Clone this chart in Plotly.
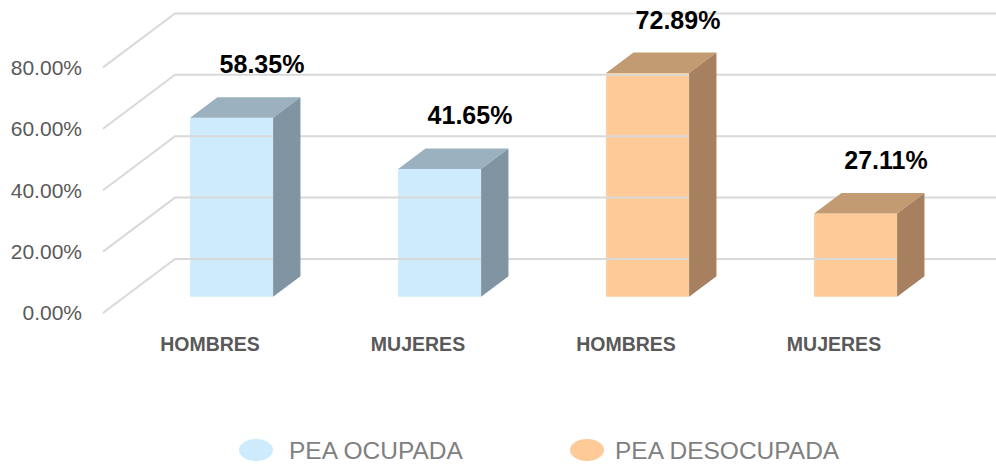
import plotly.graph_objects as go

# ---- data ----
categories = ["HOMBRES", "MUJERES", "HOMBRES", "MUJERES"]
series_names = ["PEA OCUPADA", "PEA DESOCUPADA"]
values = [58.35, 41.65, 72.89, 27.11]
series_of_bar = [0, 0, 1, 1]
y_ticks = [0, 20, 40, 60, 80]
y_tick_labels = ["0.00%", "20.00%", "40.00%", "60.00%", "80.00%"]

# ---- styling / projection ----
W, H = 996, 464
ML, MR, MT, MB = 100, 0, 0, 134
PX_PER_CAT = 208.0
PX_PER_PCT = 3.07
CAT0_PX = 210.0
ZERO_PY = 313.0
DEPTH_DX = 72.0 / PX_PER_CAT      # full depth offset in category units
DEPTH_DY = 54.0 / PX_PER_PCT      # full depth offset in percent units
D_FRONT, D_BACK = 0.30, 0.68
BAR_W = 83.0 / PX_PER_CAT
WALL_LEFT = (103.0 - CAT0_PX) / PX_PER_CAT
LABEL_DX = 52.0 / PX_PER_CAT
LABEL_DY = 21.8

front_cols = ["#CDEBFC", "#FECB98"]
top_cols = ["#9BB1BF", "#C39B73"]
side_cols = ["#8095A1", "#A6805F"]
grid_col = "#D9D9D9"


def px2x(px):
    return (px - CAT0_PX) / PX_PER_CAT


def py2y(py):
    return (ZERO_PY - py) / PX_PER_PCT


def px2paper(px):
    return (px - ML) / (W - ML - MR)


def py2paper(py):
    return (H - MB - py) / (H - MT - MB)


x_range = [px2x(ML), px2x(W - MR)]
y_range = [py2y(H - MB), py2y(MT)]

fig = go.Figure()

# gridlines (left wall diagonal + back wall horizontal)
for v in y_ticks:
    fig.add_trace(go.Scatter(
        x=[WALL_LEFT, WALL_LEFT + DEPTH_DX, x_range[1] + 1],
        y=[v, v + DEPTH_DY, v + DEPTH_DY],
        mode="lines", line=dict(color=grid_col, width=2),
        hoverinfo="skip", showlegend=False))

# bars
for i, (v, s) in enumerate(zip(values, series_of_bar)):
    xl, xr = i - BAR_W / 2, i + BAR_W / 2
    f0x, f0y = D_FRONT * DEPTH_DX, D_FRONT * DEPTH_DY
    b0x, b0y = D_BACK * DEPTH_DX, D_BACK * DEPTH_DY
    # front face
    fig.add_trace(go.Bar(
        x=[i + f0x], y=[v], base=[f0y], width=[BAR_W],
        marker=dict(color=front_cols[s], line=dict(width=0)),
        hoverinfo="skip", showlegend=False))
    # top face
    fig.add_trace(go.Scatter(
        x=[xl + f0x, xr + f0x, xr + b0x, xl + b0x, xl + f0x],
        y=[v + f0y, v + f0y, v + b0y, v + b0y, v + f0y],
        mode="lines", fill="toself", fillcolor=top_cols[s],
        line=dict(width=0, color=top_cols[s]),
        hoverinfo="skip", showlegend=False))
    # side face
    fig.add_trace(go.Scatter(
        x=[xr + f0x, xr + f0x, xr + b0x, xr + b0x, xr + f0x],
        y=[f0y, v + f0y, v + b0y, b0y, f0y],
        mode="lines", fill="toself", fillcolor=side_cols[s],
        line=dict(width=0, color=side_cols[s]),
        hoverinfo="skip", showlegend=False))

# value labels
fig.add_trace(go.Scatter(
    x=[i + LABEL_DX for i in range(len(values))],
    y=[v + LABEL_DY for v in values],
    mode="text", text=[f"<b>{v:.2f}%</b>" for v in values],
    textposition="middle center",
    textfont=dict(family="Liberation Sans", size=25, color="#000000"),
    hoverinfo="skip", showlegend=False, cliponaxis=False))

# legend (drawn manually)
legend_items = [(256.0, 287.0), (587.0, 613.0)]
for s, (cx, tx) in enumerate(legend_items):
    fig.add_shape(type="circle", xref="paper", yref="paper",
                  x0=px2paper(cx - 17), x1=px2paper(cx + 17),
                  y0=py2paper(461), y1=py2paper(439),
                  fillcolor=front_cols[s], line=dict(width=0))
    fig.add_annotation(x=px2paper(tx), y=py2paper(450), xref="paper", yref="paper",
                       text=series_names[s], showarrow=False,
                       xanchor="left", yanchor="middle",
                       font=dict(family="Liberation Sans", size=24.5, color="#7F7F7F"))

fig.update_layout(
    width=W, height=H,
    margin=dict(l=ML, r=MR, t=MT, b=MB, pad=0, autoexpand=False),
    paper_bgcolor="white", plot_bgcolor="white",
    barmode="overlay", showlegend=False,
    xaxis=dict(range=x_range, showgrid=False, zeroline=False, showline=False,
               automargin=False,
               tickmode="array", tickvals=list(range(len(categories))),
               ticktext=[f"<b>{c}</b>" for c in categories],
               tickfont=dict(family="Liberation Sans", size=19.5, color="#595959"),
               ticks="", fixedrange=True),
    yaxis=dict(range=y_range, showgrid=False, zeroline=False, showline=False,
               automargin=False,
               tickmode="array", tickvals=y_ticks, ticktext=y_tick_labels,
               tickfont=dict(family="Liberation Sans", size=21, color="#595959"),
               ticks="", ticklabelstandoff=17, fixedrange=True),
)

fig.write_html(
    "out.html",
    config={"displayModeBar": False},
    post_script="document.body.style.margin='0px';document.body.style.overflow='hidden';",
)
